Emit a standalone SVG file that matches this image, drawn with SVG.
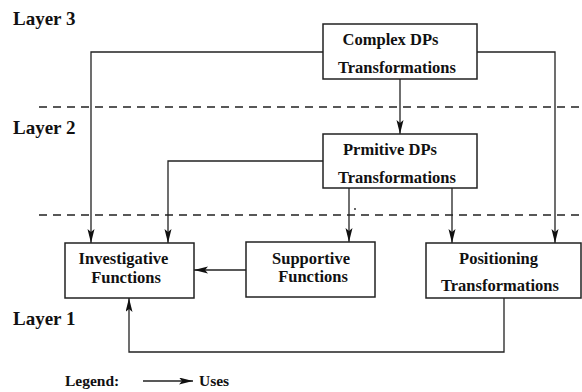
<svg xmlns="http://www.w3.org/2000/svg" width="582" height="392" viewBox="0 0 582 392">
<defs>
<style>
text{font-family:'Liberation Serif','Times New Roman',serif;font-weight:bold;fill:#111}
.box{fill:#fff;stroke:#222;stroke-width:1.5}
.lbl{font-size:16.5px;text-anchor:middle}
.layer{font-size:19px}
.leg{font-size:15.5px}
.edge{fill:none;stroke:#222;stroke-width:1.3}
.dash{fill:none;stroke:#222;stroke-width:1.3;stroke-dasharray:8 6}
</style>
<marker id="arr" markerUnits="userSpaceOnUse" markerWidth="15" markerHeight="8" refX="14" refY="3.5" orient="auto">
<path d="M0,0 L14,3.5 L0,7 L3,3.5 z" fill="#111"/>
</marker>
</defs>
<rect width="582" height="392" fill="#fff"/>
<g id="layers">
<line class="dash" x1="39" y1="107" x2="582" y2="107"/>
<line class="dash" x1="39" y1="215" x2="582" y2="215"/>
<text class="layer" x="13" y="25">Layer 3</text>
<text class="layer" x="13" y="134">Layer 2</text>
<text class="layer" x="13" y="325">Layer 1</text>
</g>
<g id="connectors">
<polyline class="edge" points="323,52 91,52 91,243" marker-end="url(#arr)"/>
<polyline class="edge" points="477,52 555,52 555,243" marker-end="url(#arr)"/>
<line class="edge" x1="400" y1="79" x2="400" y2="134" marker-end="url(#arr)"/>
<polyline class="edge" points="323,161 168,161 168,243" marker-end="url(#arr)"/>
<line class="edge" x1="349" y1="188" x2="349" y2="242" marker-end="url(#arr)"/>
<line class="edge" x1="452" y1="188" x2="452" y2="243" marker-end="url(#arr)"/>
<line class="edge" x1="246" y1="270" x2="194" y2="270" marker-end="url(#arr)"/>
<polyline class="edge" points="504,298 504,352 129,352 129,298" marker-end="url(#arr)"/>
</g>
<circle cx="355" cy="209" r="0.9" fill="#222"/>
<g id="complex">
<rect class="box" x="323" y="24" width="154" height="55"/>
<text class="lbl" x="390.5" y="45">Complex DPs</text>
<text class="lbl" x="397" y="73">Transformations</text>
</g>
<g id="primitive">
<rect class="box" x="323" y="134" width="154" height="54"/>
<text class="lbl" x="390" y="155">Prmitive DPs</text>
<text class="lbl" x="397" y="183">Transformations</text>
</g>
<g id="investigative">
<rect class="box" x="65" y="243" width="129" height="55"/>
<text class="lbl" x="123.5" y="264">Investigative</text>
<text class="lbl" x="126" y="283">Functions</text>
</g>
<g id="supportive">
<rect class="box" x="246" y="242" width="129" height="55"/>
<text class="lbl" x="311" y="264">Supportive</text>
<text class="lbl" x="313" y="282">Functions</text>
</g>
<g id="positioning">
<rect class="box" x="426" y="243" width="155" height="55"/>
<text class="lbl" x="498.5" y="264">Positioning</text>
<text class="lbl" x="500" y="291">Transformations</text>
</g>
<g id="legend">
<text class="leg" x="65" y="386">Legend:</text>
<line class="edge" x1="143" y1="381" x2="193" y2="381" marker-end="url(#arr)"/>
<text class="leg" x="199" y="386">Uses</text>
</g>
</svg>
